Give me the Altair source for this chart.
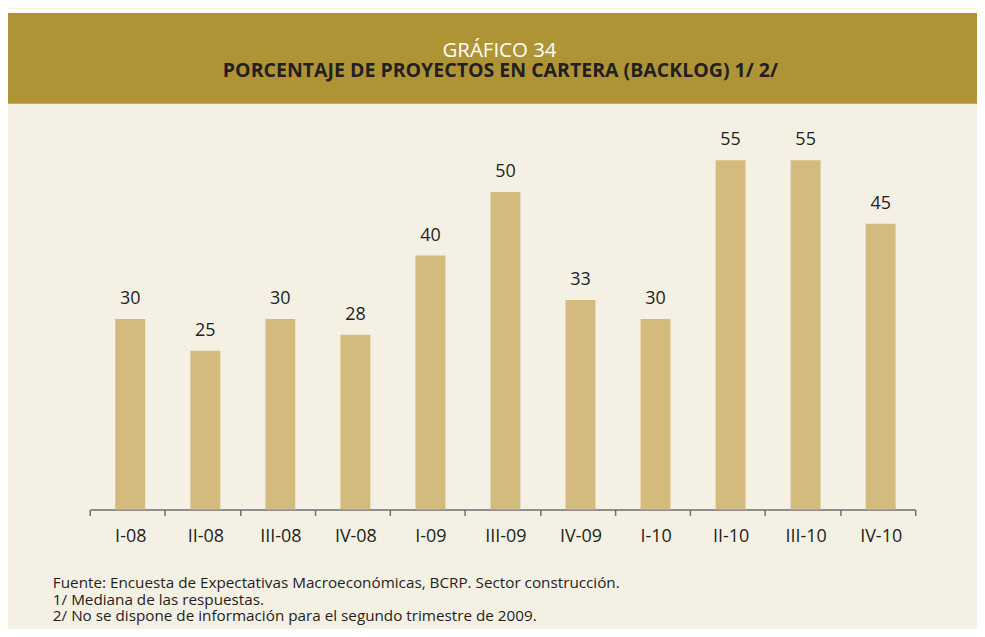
import altair as alt
import pandas as pd

categories = ["I-08", "II-08", "III-08", "IV-08", "I-09", "III-09", "IV-09",
              "I-10", "II-10", "III-10", "IV-10"]
values = [30, 25, 30, 27.5, 40, 50, 33, 30, 55, 55, 45]

title_line1 = "GRÁFICO 34"
title_line2 = "PORCENTAJE DE PROYECTOS EN CARTERA (BACKLOG) 1/ 2/"
footnotes = [
    "Fuente: Encuesta de Expectativas Macroeconómicas, BCRP. Sector construcción.",
    "1/ Mediana de las respuestas.",
    "2/ No se dispone de información para el segundo trimestre de 2009.",
]

CREAM = "#F5F0E4"
GOLD = "#AF9436"
BAR = "#D3BB7E"
DARK = "#231F20"
GRAY = "#6D6E71"
FONT = "Open Sans"

W, H = 828, 382

df = pd.DataFrame({"cat": categories, "val": values})
one = pd.DataFrame({"k": [0]})

x_enc = alt.X(
    "cat:N", sort=categories, title=None,
    scale=alt.Scale(paddingInner=0, paddingOuter=0),
    axis=alt.Axis(
        labelAngle=0, labelFont=FONT, labelFontSize=18, labelColor=DARK,
        labelPadding=12, labelOffset=3, tickBand="extent", tickSize=6,
        tickColor=GRAY, tickWidth=1.5, domainColor=GRAY, domainWidth=1.5,
        grid=False,
    ),
)
y_enc = alt.Y("val:Q", scale=alt.Scale(domain=[0, 60], nice=False), axis=None)

bars = alt.Chart(df).mark_bar(size=30, color=BAR, xOffset=3).encode(x=x_enc, y=y_enc)
labels = alt.Chart(df).mark_text(
    font=FONT, fontSize=18, color=DARK, baseline="alphabetic", dy=-15, dx=3
).encode(
    x=alt.X("cat:N", sort=categories), y="val:Q",
    text=alt.Text("val:Q", format=".0f"),
)

white_strip = alt.Chart(one).mark_rect(color="white").encode(
    x=alt.value(-82), x2=alt.value(890), y=alt.value(-120), y2=alt.value(-116))
header = alt.Chart(one).mark_rect(color=GOLD).encode(
    x=alt.value(-82), x2=alt.value(890), y=alt.value(-116), y2=alt.value(-25))
t1 = alt.Chart(one).mark_text(
    font=FONT, fontSize=20.5, color="white", baseline="alphabetic", align="center"
).encode(x=alt.value(411), y=alt.value(-72), text=alt.value(title_line1))
t2 = alt.Chart(one).mark_text(
    font=FONT, fontSize=19.6, fontWeight="bold", color=DARK,
    baseline="alphabetic", align="center"
).encode(x=alt.value(412), y=alt.value(-52), text=alt.value(title_line2))

foot_layers = []
for i, line in enumerate(footnotes):
    foot_layers.append(
        alt.Chart(one).mark_text(
            font=FONT, fontSize=15.3, color=DARK, baseline="alphabetic", align="left"
        ).encode(x=alt.value(-37), y=alt.value(461 + i * 16.7), text=alt.value(line))
    )

chart = alt.layer(white_strip, header, t1, t2, bars, labels, *foot_layers).properties(
    width=W, height=H,
    autosize=alt.AutoSizeParams(type="none"),
    padding={"left": 82, "top": 120, "right": 62, "bottom": 119},
    background=CREAM,
).configure_view(stroke=None)

chart.save("out.html", embed_options={"renderer": "svg", "actions": False})
